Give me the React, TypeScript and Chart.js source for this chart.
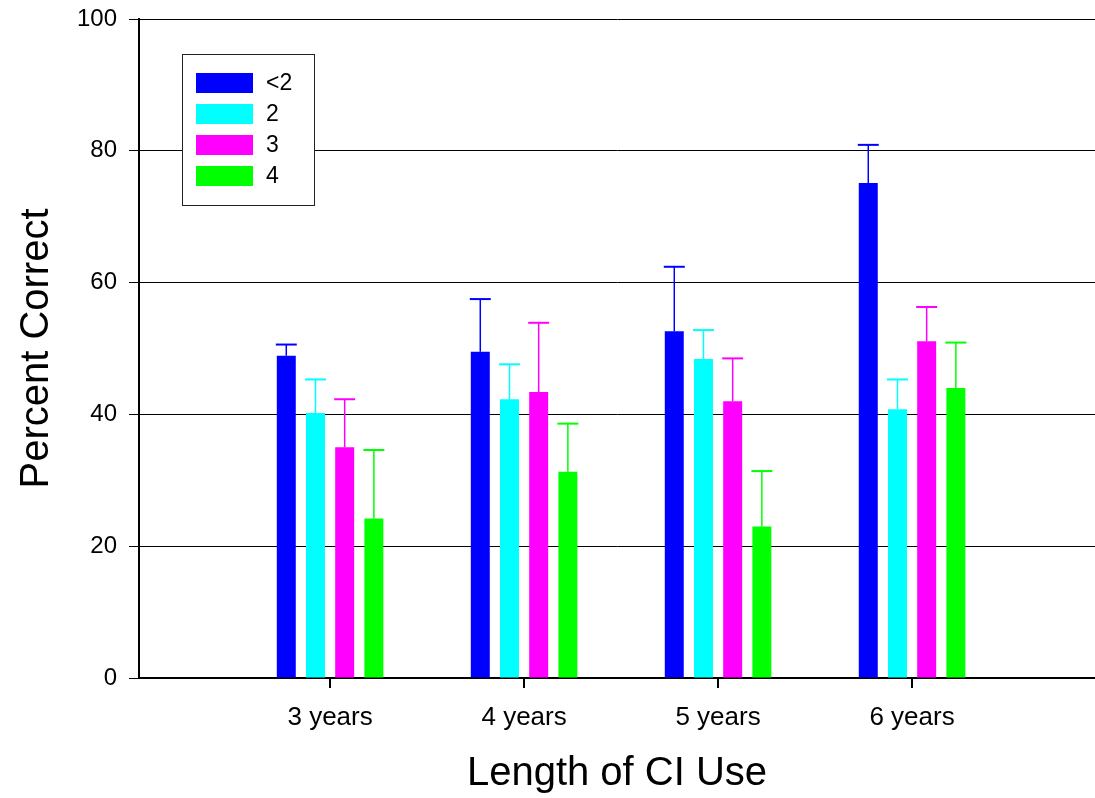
import React, { useEffect, useRef } from 'react';
import { Chart, registerables } from 'chart.js';

Chart.register(...registerables);

// ---- data ----
const categories = ['3 years', '4 years', '5 years', '6 years'];
const categoryYears = [3, 4, 5, 6];
const seriesLabels = ['<2', '2', '3', '4'];
const seriesColors = ['#0000FF', '#00FFFF', '#FF00FF', '#00FF00'];

const lessThan2 = [48.9, 49.5, 52.6, 75.1];
const two = [40.2, 42.3, 48.4, 40.8];
const three = [35.0, 43.4, 42.0, 51.1];
const four = [24.2, 31.3, 23.0, 44.0];

const lessThan2Err = [1.7, 8.0, 9.8, 5.8];
const twoErr = [5.1, 5.3, 4.4, 4.5];
const threeErr = [7.3, 10.5, 6.5, 5.2];
const fourErr = [10.4, 7.3, 8.4, 6.9];

const yMin = 0;
const yMax = 100;
const yStep = 20;
const xMin = 2.015;
const xMax = 6.943;

const seriesValues = [lessThan2, two, three, four];
const seriesErrors = [lessThan2Err, twoErr, threeErr, fourErr];

const FONT = 'Arial, "Liberation Sans", Helvetica, sans-serif';

const errorBarPlugin = {
  id: 'errorBars',
  afterDatasetsDraw(chart: any) {
    const ctx = chart.ctx;
    const yScale = chart.scales.y;
    chart.data.datasets.forEach((ds: any, i: number) => {
      const meta = chart.getDatasetMeta(i);
      const errs = seriesErrors[i];
      meta.data.forEach((el: any, j: number) => {
        const v = seriesValues[i][j];
        const e = errs[j];
        if (v == null || e == null) return;
        const yTop = yScale.getPixelForValue(v + e);
        const yBar = el.y;
        const x = el.x;
        const w = el.width + 2;
        ctx.save();
        ctx.strokeStyle = ds.backgroundColor;
        ctx.lineWidth = 1.5;
        ctx.beginPath();
        ctx.moveTo(x, yBar);
        ctx.lineTo(x, yTop);
        ctx.stroke();
        ctx.lineWidth = 2;
        ctx.beginPath();
        ctx.moveTo(x - w / 2, yTop);
        ctx.lineTo(x + w / 2, yTop);
        ctx.stroke();
        ctx.restore();
      });
    });
  },
};

const boxLegendPlugin = {
  id: 'boxLegend',
  afterDraw(chart: any) {
    const ctx = chart.ctx;
    const bx = 182.5;
    const by = 54.5;
    const bw = 132;
    const bh = 151;
    ctx.save();
    ctx.fillStyle = '#ffffff';
    ctx.fillRect(bx, by, bw, bh);
    ctx.strokeStyle = '#222222';
    ctx.lineWidth = 1;
    ctx.strokeRect(bx, by, bw, bh);
    ctx.font = `23px ${FONT}`;
    ctx.textBaseline = 'middle';
    ctx.textAlign = 'left';
    chart.data.datasets.forEach((ds: any, i: number) => {
      const sy = 73 + i * 31;
      ctx.fillStyle = ds.backgroundColor;
      ctx.fillRect(196, sy, 57, 20);
      ctx.fillStyle = '#000000';
      ctx.fillText(ds.label, 266, sy + 11);
    });
    ctx.restore();
  },
};

export default function App() {
  const canvasRef = useRef<HTMLCanvasElement | null>(null);

  useEffect(() => {
    if (!canvasRef.current) return;
    Chart.defaults.color = '#000000';
    const chart = new Chart(canvasRef.current, {
      type: 'bar',
      data: {
        datasets: seriesLabels.map((label, i) => ({
          label,
          data: categoryYears.map((x, j) => ({ x, y: seriesValues[i][j] })),
          backgroundColor: seriesColors[i],
          borderWidth: 0,
          categoryPercentage: 0.602,
          barPercentage: 0.65,
        })),
      },
      options: {
        responsive: true,
        maintainAspectRatio: false,
        animation: false,
        layout: { padding: { left: 0, right: 0, top: 19, bottom: 0 } },
        plugins: {
          legend: { display: false },
          tooltip: { enabled: false },
        },
        scales: {
          x: {
            type: 'linear',
            min: xMin,
            max: xMax,
            offset: false,
            afterBuildTicks: (scale: any) => {
              scale.ticks = categoryYears.map((v) => ({ value: v }));
            },
            afterFit: (scale: any) => {
              scale.height = 120;
              scale.paddingLeft = 0;
              scale.paddingRight = 0;
            },
            ticks: {
              autoSkip: false,
              maxRotation: 0,
              minRotation: 0,
              padding: 14,
              color: '#000000',
              font: { family: FONT, size: 26 },
              callback: (value: any) => {
                const idx = categoryYears.indexOf(Number(value));
                return idx >= 0 ? categories[idx] : '';
              },
            },
            grid: {
              display: true,
              offset: false,
              drawOnChartArea: false,
              drawTicks: true,
              tickLength: 10,
              color: '#000000',
              lineWidth: 2,
            },
            border: { display: true, color: '#000000', width: 2 },
            title: {
              display: true,
              text: 'Length of CI Use',
              color: '#000000',
              font: { family: FONT, size: 40 },
              padding: { top: 0, bottom: 0 },
            },
          },
          y: {
            type: 'linear',
            min: yMin,
            max: yMax,
            afterFit: (scale: any) => {
              scale.width = 139;
              scale.paddingTop = 0;
              scale.paddingBottom = 0;
            },
            ticks: {
              stepSize: yStep,
              padding: 12,
              color: '#000000',
              font: { family: FONT, size: 24 },
            },
            grid: {
              display: true,
              drawOnChartArea: true,
              drawTicks: true,
              tickLength: 10,
              color: '#000000',
              lineWidth: 1,
            },
            border: { display: true, color: '#000000', width: 2 },
            title: {
              display: true,
              text: 'Percent Correct',
              color: '#000000',
              font: { family: FONT, size: 40 },
              padding: { top: 13, bottom: 0 },
            },
          },
        },
      },
      plugins: [errorBarPlugin, boxLegendPlugin],
    } as any);
    return () => chart.destroy();
  }, []);

  return (
    <div
      style={{
        position: 'fixed',
        left: 0,
        top: 0,
        width: 1095,
        height: 798,
        background: '#ffffff',
      }}
    >
      <canvas ref={canvasRef} />
    </div>
  );
}
